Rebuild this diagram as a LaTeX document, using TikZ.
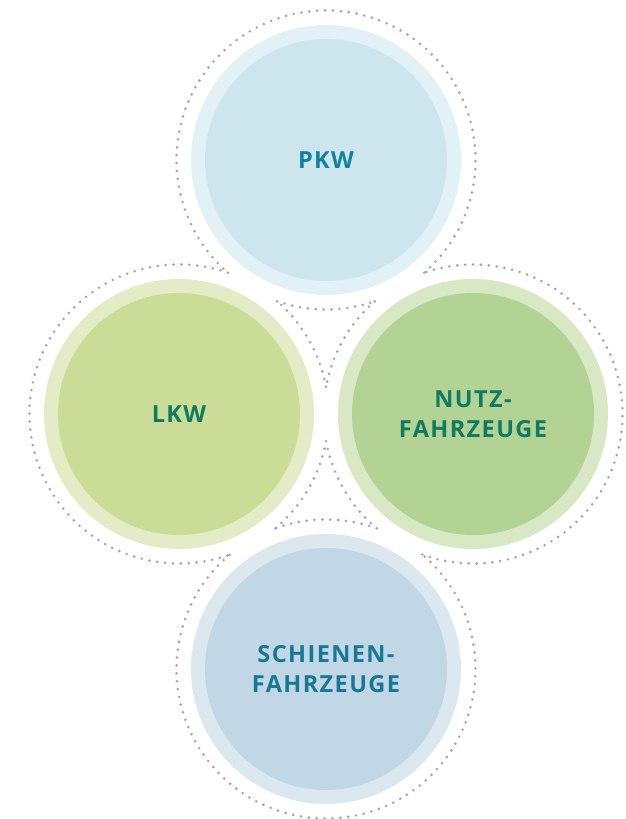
\documentclass[tikz,border=0pt]{standalone}
\usepackage{fontspec}
\setmainfont{Open Sans}[LetterSpace=6]
\definecolor{pkwout}{HTML}{E2F1F6}
\definecolor{pkwin}{HTML}{CDE6EE}
\definecolor{lkwout}{HTML}{E3ECC6}
\definecolor{lkwin}{HTML}{CBDC96}
\definecolor{nutzout}{HTML}{D8E7C4}
\definecolor{nutzin}{HTML}{B3D394}
\definecolor{schout}{HTML}{DCE8F0}
\definecolor{schin}{HTML}{C1D7E5}
\definecolor{dotgray}{HTML}{A4A4A4}
\definecolor{bluetext}{HTML}{12809E}
\definecolor{greentext}{HTML}{107A62}
\definecolor{schtext}{HTML}{177895}
\tikzset{
  dotarc/.style={draw=dotgray, line width=2.9pt, line cap=round, dash pattern=on 0pt off 7.9pt},
  ring/.style={fill=#1},
  label/.style={font=\fontsize{23.5}{30.5}\selectfont\bfseries, align=center, text=#1}
}
\begin{document}
\begin{tikzpicture}[x=1pt,y=1pt]
\useasboundingbox (0,0) rectangle (626,819);
\coordinate (P) at (326,659);
\coordinate (L) at (179,405);
\coordinate (N) at (473,405);
\coordinate (S) at (326,150);
% rings
\fill[ring=pkwout] (P) circle[radius=135];
\fill[ring=pkwin] (P) circle[radius=121];
\fill[ring=lkwout] (L) circle[radius=135];
\fill[ring=lkwin] (L) circle[radius=121];
\fill[ring=nutzout] (N) circle[radius=135];
\fill[ring=nutzin] (N) circle[radius=121];
\fill[ring=schout] (S) circle[radius=135];
\fill[ring=schin] (S) circle[radius=121];
% dotted outline (union of circles)
\def\rr{149.5}
\draw[dotarc] (P) ++(311.1:\rr) arc[start angle=311.1, end angle=588.9, radius=\rr];
\draw[dotarc] (P) ++(250.9:\rr) arc[start angle=250.9, end angle=289.1, radius=\rr];
\draw[dotarc] (L) ++(10.5:\rr) arc[start angle=10.5, end angle=48.9, radius=\rr];
\draw[dotarc] (L) ++(70.9:\rr) arc[start angle=70.9, end angle=289.8, radius=\rr];
\draw[dotarc] (L) ++(310.2:\rr) arc[start angle=310.2, end angle=349.5, radius=\rr];
\draw[dotarc] (N) ++(131.1:\rr) arc[start angle=131.1, end angle=169.5, radius=\rr];
\draw[dotarc] (N) ++(190.5:\rr) arc[start angle=190.5, end angle=229.8, radius=\rr];
\draw[dotarc] (N) ++(250.2:\rr) arc[start angle=250.2, end angle=469.1, radius=\rr];
\draw[dotarc] (S) ++(70.2:\rr) arc[start angle=70.2, end angle=109.8, radius=\rr];
\draw[dotarc] (S) ++(130.2:\rr) arc[start angle=130.2, end angle=409.8, radius=\rr];
% labels
\node[label=bluetext] (tp) at (P) {PKW};
\node[label=greentext] (tl) at (L) {LKW};
\node[label=greentext] (tn) at (N) {NUTZ-\\FAHRZEUGE};
\node[label=schtext] (ts) at (S) {SCHIENEN-\\FAHRZEUGE};
\end{tikzpicture}
\end{document}
